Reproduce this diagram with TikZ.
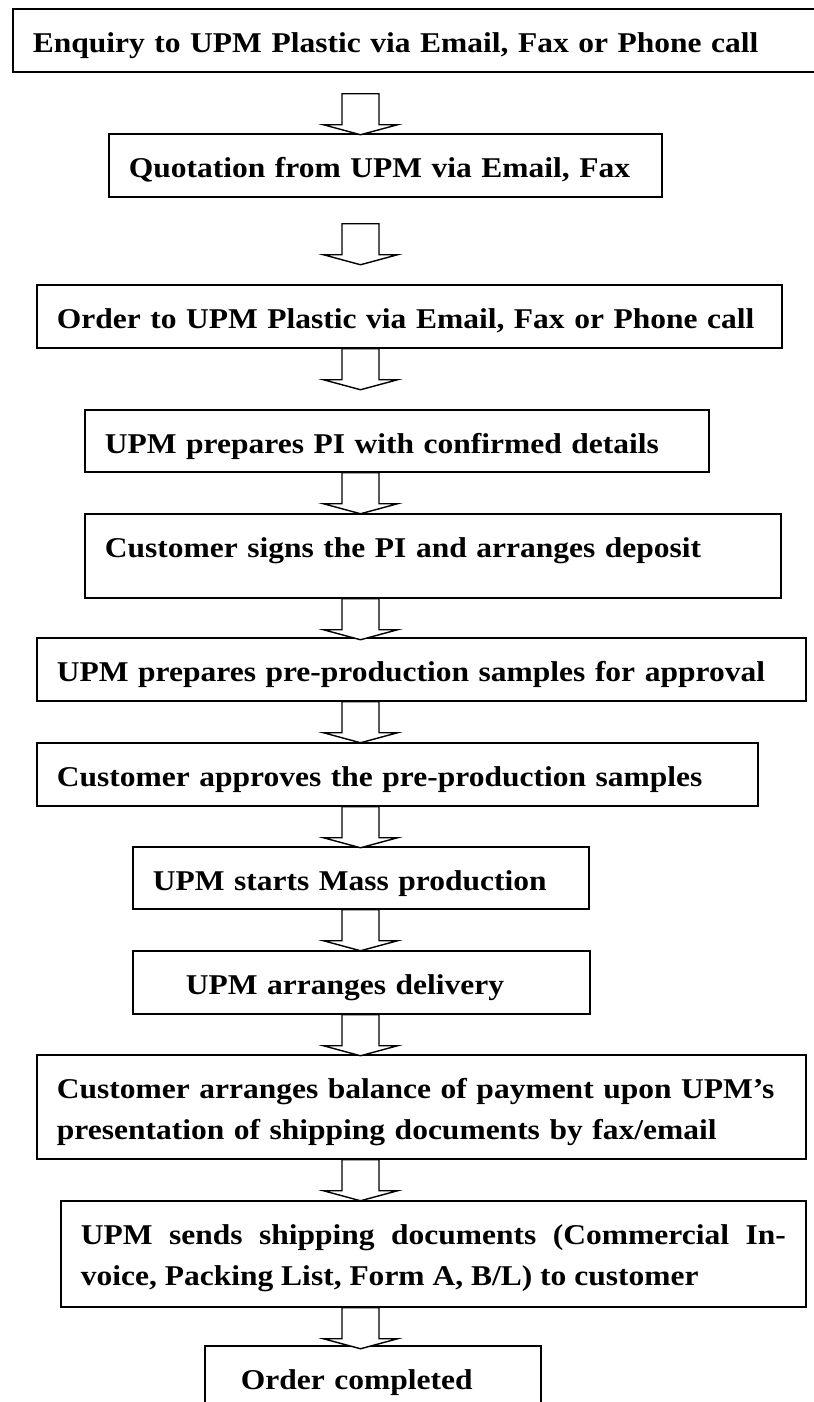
\documentclass[tikz,border=0pt]{standalone}
\usepackage{fontspec}
\setmainfont{Liberation Serif}[FakeStretch=1.1]
\usepackage{tikz}
\usetikzlibrary{positioning}
\newlength{\pxunit}
\setlength{\pxunit}{0.02cm}

\begin{document}
\begin{tikzpicture}[x=0.02cm,y=-0.02cm]
      \tikzstyle{stepbox}=[draw,line width=1pt,anchor=north west,inner xsep=20\pxunit,inner ysep=0pt,
                           align=left,text height=44\pxunit,font=\bfseries\fontsize{16.3}{23.3}\selectfont];
      \tikzstyle{hollow}=[draw,line width=0.8pt,line join=miter,fill=white];
      \useasboundingbox (0,0) rectangle (814,1402);
      \coordinate (ax) at (360.5,0);
      \node[stepbox,text width=770\pxunit,text depth=19\pxunit] (enq)   at (12,8)     {Enquiry to UPM Plastic via Email, Fax or Phone call};
      \node[stepbox,text width=513\pxunit,text depth=19\pxunit] (quot)  at (108,133)  {Quotation from UPM via Email, Fax};
      \node[stepbox,text width=705\pxunit,text depth=19\pxunit] (order) at (36,284)   {Order to UPM Plastic via Email, Fax or Phone call};
      \node[stepbox,text width=584\pxunit,text depth=18\pxunit] (pi)    at (84,409)   {UPM prepares PI with confirmed details};
      \node[stepbox,text width=656\pxunit,text depth=40\pxunit] (sign)  at (84,513)   {Customer signs the PI and arranges deposit};
      \node[stepbox,text width=729\pxunit,text depth=19\pxunit] (samp)  at (36,637)   {UPM prepares pre-production samples for approval};
      \node[stepbox,text width=681\pxunit,text depth=19\pxunit] (appr)  at (36,742)   {Customer approves the pre-production samples};
      \node[stepbox,text width=416\pxunit,text depth=18\pxunit] (mass)  at (132,846)  {UPM starts Mass production};
      \node[stepbox,text width=417\pxunit,text depth=19\pxunit] (deliv) at (132,950)  {\hspace*{33\pxunit}UPM arranges delivery};
      \node[stepbox,text width=729\pxunit,text depth=60\pxunit] (bal)   at (36,1054)  {Customer arranges balance of payment upon UPM’s\\presentation of shipping documents by fax/email};
      \node[stepbox,text width=705\pxunit,text depth=62\pxunit,align=justify] (docs) at (60,1200)
            {UPM sends shipping documents (Commercial In-\linebreak voice, Packing List, Form A, B/L) to customer};
      \node[stepbox,text width=296\pxunit,text depth=21\pxunit] (done)  at (204,1345) {\hspace*{16\pxunit}Order completed};
      % hollow block arrows, gap below each box in px
      \foreach \a/\g in {enq/21,quot/26,order/0,pi/0,sign/0,samp/0,appr/0,mass/0,deliv/0,bal/0,docs/0}
        \draw[hollow] (\a.south -| ax) ++(-18.5,\g) -- ++(0,31) -- ++(-18.5,0) -- ++(37,10) -- ++(37,-10)
                      -- ++(-18.5,0) -- ++(0,-31) -- cycle;
    \end{tikzpicture}
\end{document}
